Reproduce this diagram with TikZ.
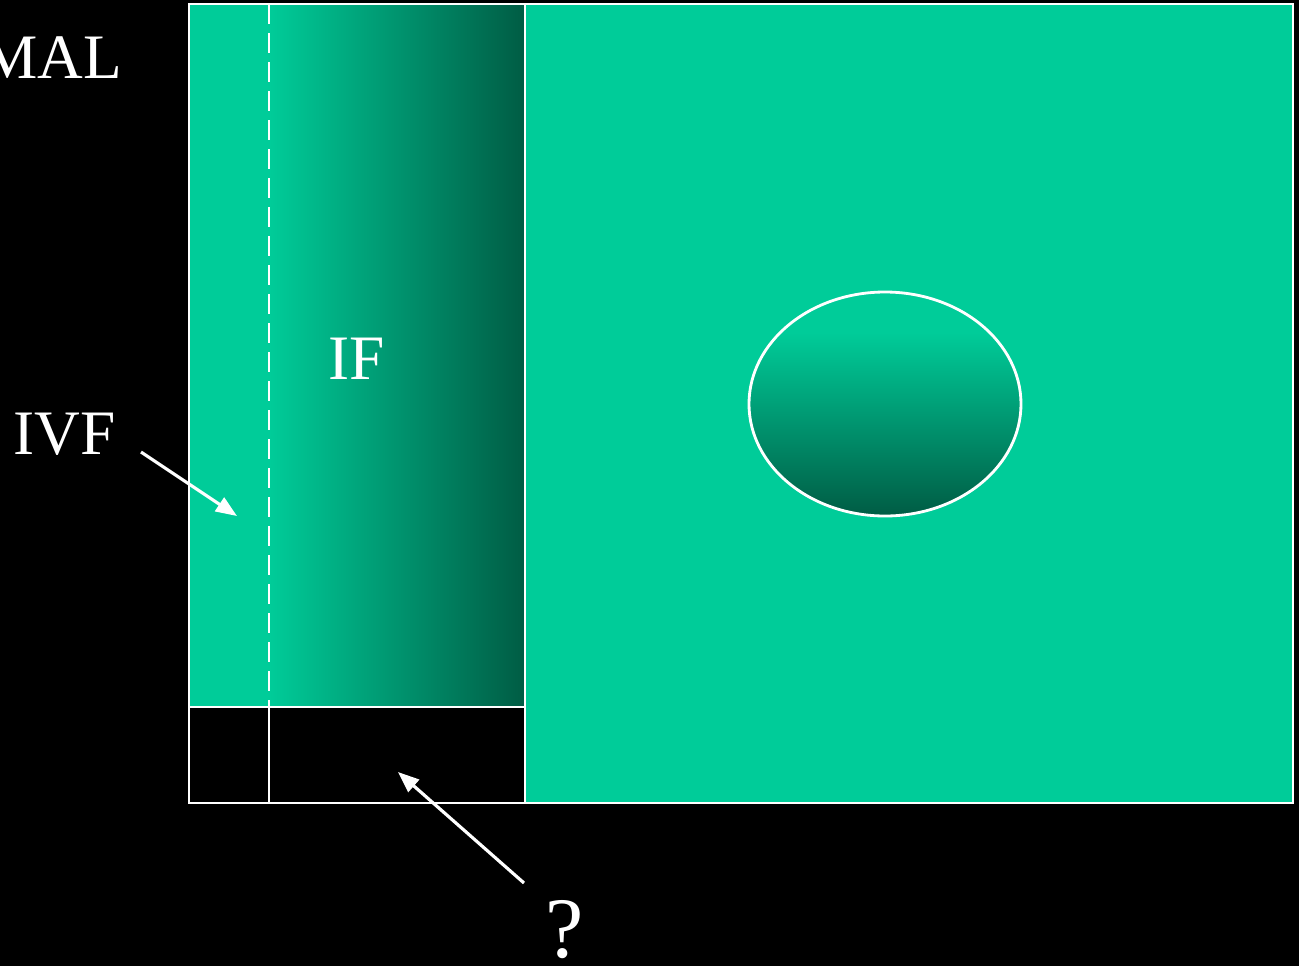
\documentclass[tikz,border=0pt]{standalone}
\usepackage{fontspec}
\setmainfont{Liberation Serif}
\usetikzlibrary{arrows.meta,positioning}
\definecolor{cellgreen}{RGB}{0,204,153}
\definecolor{darkgreen}{RGB}{0,92,68}
\pgfdeclareverticalshading{ovalshade}{100bp}{color(0bp)=(darkgreen); color(25bp)=(darkgreen); color(66bp)=(cellgreen); color(100bp)=(cellgreen)}

\begin{document}
\begin{tikzpicture}[
    x=0.01cm, y=-0.01cm,
    wall/.style={draw=white, line width=0.8pt},
    arrow/.style={-{Triangle[length=6pt, width=4.6pt]}, draw=white, line width=0.9pt},
    label/.style={font=\fontsize{18}{21}\selectfont, text=white, inner sep=0pt}
  ]
  \useasboundingbox (0,0) rectangle (1299,966);
  \fill[black] (0,0) rectangle (1299,966);

  % Compartments
  \fill[cellgreen] (189,4) rectangle (1293,707);
  \fill[cellgreen] (525,707) rectangle (1293,803);
  \shade[left color=cellgreen, right color=darkgreen] (269,4) rectangle (525,707);
  \draw[wall] (189,4) rectangle (1293,803);
  \draw[wall] (525,4) -- (525,803);
  \draw[wall] (189,707) -- (525,707);
  \draw[wall] (269,707) -- (269,803);
  \draw[wall, dash pattern=on 0.2cm off 0.09cm] (269,4) -- (269,707);
  \shade[shading=ovalshade, draw=white, line width=0.8pt] (885,404) ellipse [x radius=136, y radius=112];

  % Labels
  \node[label, anchor=base east] (mal) at (123,78) {MAL};
  \node[label, anchor=base] (if) at (357,379) {IF};
  \node[label, anchor=base west] (ivf) at (13,454) {IVF};
  \node[label, font=\fontsize{24.5}{28}\selectfont, anchor=base] (qm) at (565,957) {?};

  % Arrows
  \coordinate (ivftail) at (141,452);
  \coordinate (ivftip) at (237,516);
  \coordinate (qmtail) at (524,883);
  \coordinate (qmtip) at (398,772);
  \draw[arrow] (ivftail) -- (ivftip);
  \draw[arrow] (qmtail) -- (qmtip);
\end{tikzpicture}
\end{document}
